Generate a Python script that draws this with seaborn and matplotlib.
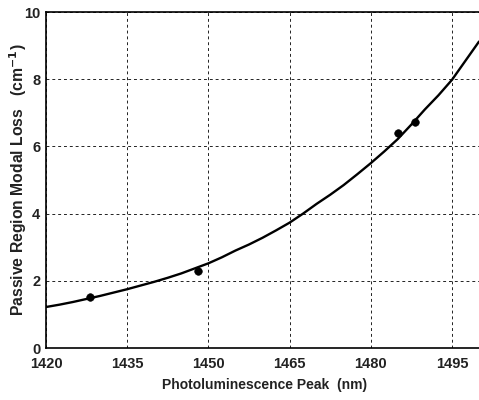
import matplotlib
matplotlib.use("Agg")
import matplotlib.pyplot as plt
import seaborn as sns
import pandas as pd

# Fitted curve
curve_x = [1420, 1422.5, 1425, 1427.5, 1430, 1432.5, 1435, 1437.5, 1440, 1442.5,
           1445, 1447.5, 1450, 1452.5, 1455, 1457.5, 1460, 1462.5, 1465, 1467.5,
           1470, 1472.5, 1475, 1477.5, 1480, 1482.5, 1485, 1487.5, 1490, 1492.5,
           1495, 1497.5, 1500]
curve_y = [1.22, 1.29, 1.37, 1.46, 1.55, 1.65, 1.75, 1.86, 1.97, 2.09,
           2.22, 2.37, 2.52, 2.70, 2.90, 3.08, 3.28, 3.50, 3.73, 4.00,
           4.29, 4.56, 4.85, 5.17, 5.50, 5.85, 6.22, 6.65, 7.10, 7.52,
           7.98, 8.55, 9.12]

# Measured points
meas_x = [1428.1, 1448.1, 1485.1, 1488.1]
meas_y = [1.51, 2.30, 6.41, 6.72]

x_ticks = [1420, 1435, 1450, 1465, 1480, 1495]
y_ticks = [0, 2, 4, 6, 8, 10]

sns.set_style("white")
plt.rcParams['font.family'] = ['Liberation Sans', 'DejaVu Sans']

fig = plt.figure(figsize=(4.79, 4.00), dpi=100)
ax = fig.add_axes([46/479, 1-348/400, 1-46/479, (348-12)/400])

sns.lineplot(x=curve_x, y=curve_y, ax=ax, color='black', linewidth=1.7)
sns.scatterplot(x=meas_x, y=meas_y, ax=ax, color='black', s=30, edgecolor='black', zorder=5)

ax.set_xlim(1420, 1500)
ax.set_ylim(0, 10)
ax.set_xticks(x_ticks)
ax.set_yticks(y_ticks)
ax.grid(True, color='#222222', linestyle=(0, (3, 3)), linewidth=0.7)
ax.set_axisbelow(True)
for side in ['left', 'bottom', 'top']:
    ax.spines[side].set_color('black')
    ax.spines[side].set_linewidth(1.2)
ax.spines['right'].set_visible(False)
ax.tick_params(axis='both', direction='in', length=4, width=1, color='black',
               labelsize=10.5)
ax.tick_params(axis='x', pad=6.5)
ax.tick_params(axis='y', pad=4)
for lab in ax.get_xticklabels() + ax.get_yticklabels():
    lab.set_fontweight('bold')
    lab.set_color('#222222')

ax.set_xlabel('Photoluminescence Peak  (nm)', fontsize=10, fontweight='bold', color='#222222')
ax.set_ylabel('Passive Region Modal Loss   (cm$^{\\mathbf{-1}}$)', fontsize=11.3, fontweight='bold', color='#222222')
ax.xaxis.set_label_coords((265 - 46) / 433, -(385 - 348) / 336)
ax.yaxis.set_label_coords(-(46 - 18) / 433, 0.5)
ax.xaxis.label.set_va('center')
ax.yaxis.label.set_va('center')

fig.savefig('out.png', dpi=100)
